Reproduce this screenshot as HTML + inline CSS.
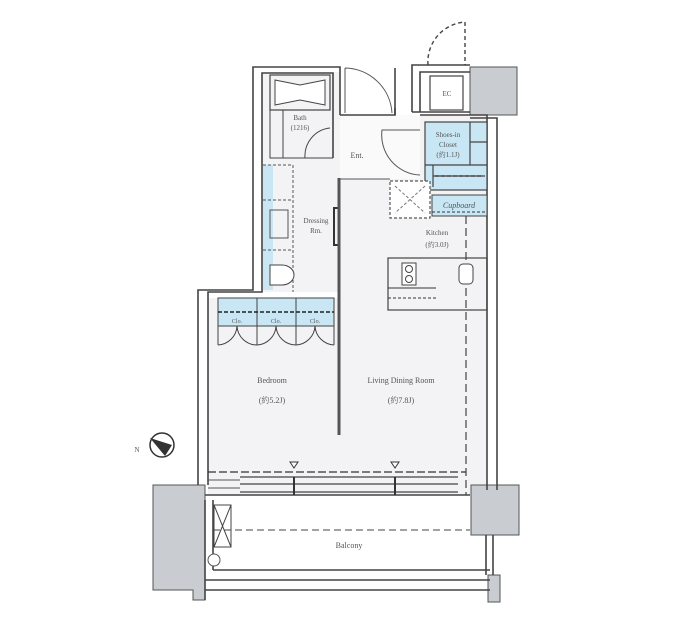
<!DOCTYPE html>
<html><head><meta charset="utf-8"><style>
html,body{margin:0;padding:0;background:#fff;width:700px;height:622px;overflow:hidden}
svg{display:block}
text{font-family:"Liberation Serif","Noto Serif CJK SC",serif;fill:#555;text-anchor:middle}
</style></head><body>
<svg width="700" height="622" viewBox="0 0 700 622" xmlns="http://www.w3.org/2000/svg">
<!-- floor fills -->
<g fill="#f3f2f4">
<rect x="262" y="72" width="78" height="220"/>
<rect x="340" y="115" width="147" height="380"/>
<rect x="208" y="298" width="135" height="197"/>
</g>
<rect x="340" y="115" width="80" height="64" fill="#fafafa"/>
<!-- gray pillars -->
<g fill="#c9ccd0" stroke="#555" stroke-width="1">
<rect x="470" y="67" width="47" height="48"/>
<path d="M153 485 H205 V600 H193 V590 H153 Z"/>
<rect x="471" y="485" width="48" height="50"/>
<rect x="488" y="575" width="12" height="27"/>
</g>
<!-- walls -->
<g fill="none" stroke="#444" stroke-width="1.6">
<!-- upper left block -->
<path d="M340 115 V67 H253 V290 H198 V485"/>
<path d="M333 158 V73 H262 V292 H208 V485"/>
<!-- entry door wall -->
<path d="M340 115 H395 V108"/>
<path d="M395 115 V68"/>
<!-- EC and right -->
<path d="M412 112 V65 H470"/>
<path d="M420 112 V72 H470"/>
<path d="M412 112 H470"/>
<path d="M420 115 H487 V118"/>
<path d="M470 118 H497 V490"/>
<path d="M487 118 V490"/>
<!-- balcony -->
<path d="M205 495 H470"/>
<path d="M213 570 H490"/>
<path d="M205 580 H490 M205 590 H490"/>
<path d="M205 500 V600 M213 500 V570"/>
<path d="M486 535 V575 M493 535 V575"/>
</g>
<!-- EC box -->
<rect x="430" y="76" width="33" height="34" fill="none" stroke="#444" stroke-width="1.2"/>
<text x="447" y="96" font-size="7">EC</text>
<!-- EC door dashed -->
<path d="M465 22 V65 M428 65 A40 40 0 0 1 465 22" fill="none" stroke="#444" stroke-width="1.4" stroke-dasharray="4 3"/>
<!-- entrance door -->
<path d="M345 68 V113 M345 68 A48 48 0 0 1 392 113" fill="none" stroke="#555" stroke-width="1"/>
<path d="M420 175 A40 40 0 0 1 382 130 H420" fill="none" stroke="#555" stroke-width="1"/>
<!-- bath -->
<rect x="270" y="75" width="60" height="35" fill="none" stroke="#444" stroke-width="1.2"/>
<path d="M275 80 L300 85 L325 80 L325 105 L300 100 L275 105 Z" fill="#fff" stroke="#444" stroke-width="1"/>
<path d="M270 110 V158 H333 M283 110 V158 M305 158 A28 28 0 0 1 330 128" fill="none" stroke="#444" stroke-width="1"/>
<text x="300" y="120" font-size="7">Bath</text><text x="300" y="130" font-size="7">(1216)</text>
<!-- dressing -->
<rect x="263" y="165" width="10" height="125" fill="#c8e6f3"/>
<path d="M263 165 H293 V292 M263 200 H293 M263 250 H293" fill="none" stroke="#555" stroke-width="1" stroke-dasharray="3 2"/>
<rect x="270" y="210" width="18" height="28" fill="none" stroke="#555"/>
<path d="M270 265 H282 A12 10 0 0 1 282 285 H270 Z" fill="#fff" stroke="#444"/>
<path d="M338 208 H334 V245 H338" fill="none" stroke="#333" stroke-width="2"/>
<text x="316" y="223" font-size="7">Dressing</text><text x="316" y="233" font-size="7">Rm.</text>
<!-- partition -->
<path d="M339 178 V435" stroke="#555" stroke-width="3"/>
<path d="M340 179 H390" stroke="#555" stroke-width="1"/>
<!-- shoe closet -->
<rect x="425" y="122" width="62" height="68" fill="#c8e6f3" stroke="#444" stroke-width="1.2"/>
<path d="M470 122 V165 M470 142 H487 M425 165 H487 M433 165 V187 M433 176 H485" fill="none" stroke="#444" stroke-width="1.2"/>
<path d="M435 176 H483" stroke="#333" stroke-width="1.2" stroke-dasharray="4 2"/>
<text x="448" y="137" font-size="7">Shoes-in</text><text x="448" y="147" font-size="7">Closet</text><text x="448" y="157" font-size="7">(約1.1J)</text>
<!-- fridge -->
<rect x="390" y="181" width="40" height="37" fill="#fff" stroke="#555" stroke-width="1.2" stroke-dasharray="3 2"/>
<path d="M395 186 L425 213 M425 186 L395 213" stroke="#777" stroke-dasharray="3 2"/>
<!-- cupboard -->
<rect x="432" y="195" width="55" height="21" fill="#c8e6f3" stroke="#444" stroke-width="1"/>
<path d="M432 212 H487" stroke="#333" stroke-dasharray="3 2"/>
<text x="459" y="208" font-size="8" font-style="italic">Cupboard</text>
<path d="M466 216 V495" stroke="#444" stroke-width="1.2" stroke-dasharray="8 4"/>
<text x="437" y="235" font-size="7">Kitchen</text><text x="437" y="247" font-size="7">(約3.0J)</text>
<!-- counter -->
<rect x="388" y="258" width="99" height="52" fill="none" stroke="#444" stroke-width="1.2"/>
<path d="M388 298 H436" stroke="#333" stroke-dasharray="3 2"/>
<path d="M388 288 H436" stroke="#333"/>
<rect x="402" y="263" width="14" height="22" fill="#fff" stroke="#444"/>
<circle cx="409" cy="269" r="3.5" fill="none" stroke="#444"/><circle cx="409" cy="279" r="3.5" fill="none" stroke="#444"/>
<rect x="459" y="264" width="14" height="20" rx="4" fill="#fff" stroke="#444"/>
<text x="357" y="158" font-size="8">Ent.</text>
<!-- closets -->
<rect x="218" y="298" width="116" height="28" fill="#c8e6f3" stroke="#444" stroke-width="1"/>
<path d="M257 298 V326 M296 298 V326" stroke="#444"/>
<path d="M218 312 H334" stroke="#222" stroke-width="1.5" stroke-dasharray="4 2"/>
<text x="237" y="323" font-size="6">Clo.</text><text x="276" y="323" font-size="6">Clo.</text><text x="315" y="323" font-size="6">Clo.</text>
<path d="M218 326 V345 M218 345 A20 20 0 0 0 237 326 M237 326 A20 20 0 0 0 257 345 M257 345 A20 20 0 0 0 276 326 M276 326 A20 20 0 0 0 296 345 M296 345 A20 20 0 0 0 315 326 M315 326 A20 20 0 0 0 334 345 M257 326 V345 M296 326 V345 M334 326 V345" fill="none" stroke="#444"/>
<!-- room labels -->
<text x="272" y="383" font-size="8">Bedroom</text><text x="272" y="403" font-size="8">(約5.2J)</text>
<text x="401" y="383" font-size="8">Living Dining Room</text><text x="401" y="403" font-size="8">(約7.8J)</text>
<!-- window -->
<path d="M208 472 H466" stroke="#333" stroke-width="1.2" stroke-dasharray="8 3"/>
<path d="M240 477 H458 M240 484 H458 M240 492 H458" stroke="#444" stroke-width="1.2"/>
<path d="M208 480 H240 M208 488 H240" stroke="#555"/>
<path d="M294 477 V495 M395 477 V495" stroke="#333" stroke-width="2"/>
<path d="M290 462 h8 l-4 6 z M391 462 h8 l-4 6 z" fill="#fff" stroke="#333"/>
<!-- balcony items -->
<rect x="214" y="505" width="17" height="42" fill="#fff" stroke="#444"/>
<path d="M214 505 L231 547 M231 505 L214 547" stroke="#444"/>
<path d="M213 530 H470" stroke="#444" stroke-dasharray="7 4"/>
<circle cx="214" cy="560" r="6" fill="#fff" stroke="#555"/>
<text x="349" y="548" font-size="8">Balcony</text>
<!-- compass -->
<circle cx="162" cy="445" r="12" fill="#fff" stroke="#333" stroke-width="1.5"/>
<path d="M150 438 L172 445 L165 456 Z" fill="#333"/>
<text x="137" y="452" font-size="7">N</text>
</svg>
</body></html>
